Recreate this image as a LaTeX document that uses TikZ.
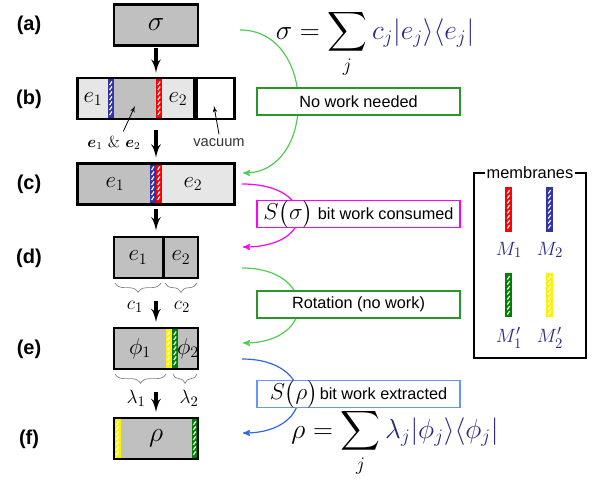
\documentclass[tikz,border=0pt]{standalone}
\usepackage{fontspec}
\usepackage{amsmath,bm}
\newfontfamily\arial{Liberation Sans}
\usetikzlibrary{shapes,arrows,positioning,calc,decorations.pathreplacing}

\definecolor{boxgray}{RGB}{192,192,192}
\definecolor{palegray}{RGB}{230,230,230}
\definecolor{navy}{RGB}{40,40,135}
\definecolor{mblue}{RGB}{50,50,170}
\definecolor{mgreen}{RGB}{0,128,0}
\definecolor{curvegreen}{RGB}{80,205,80}
\definecolor{notegreen}{RGB}{40,150,40}
\definecolor{noteblue}{RGB}{100,150,255}
\definecolor{curveblue}{RGB}{50,100,240}
\definecolor{pink}{RGB}{255,0,255}

\tikzstyle{cell} = [rectangle, fill=boxgray, minimum width=63pt,
    minimum height=30.75pt, inner sep=0pt, outer sep=0pt,
    font=\fontsize{17}{20}\selectfont]
\tikzstyle{wide} = [cell, minimum width=117.75pt]
\tikzstyle{frame} = [draw, line width=2.2pt]
\tikzstyle{sym} = [font=\fontsize{17}{20}\selectfont]
\tikzstyle{coef} = [font=\fontsize{15}{18}\selectfont]
\tikzstyle{tag} = [font=\arial\bfseries\fontsize{15}{18}\selectfont]
\tikzstyle{note} = [rectangle, draw, fill=white, line width=0.8pt,
    minimum width=152.25pt, minimum height=20.25pt, inner sep=0pt,
    font=\arial\fontsize{12.2}{14}\selectfont]
\tikzstyle{formula} = [inner sep=0pt, font=\fontsize{20.5}{24}\selectfont]
\tikzstyle{thickarrow} = [draw, line width=2.4pt, -latex']
\tikzstyle{line} = [draw, line width=0.9pt, -stealth']
\tikzstyle{pointer} = [draw, line width=0.6pt, -latex']
\tikzstyle{brace} = [draw=gray, line width=0.5pt, decorate,
    decoration={brace, amplitude=7pt}]

% hatched membrane strip: x1, x2, ytop, ybottom, colour
\newcommand{\memb}[5]{%
  \fill[#5] (#1,#3) rectangle (#2,#4);
  \pgfmathsetmacro{\mx}{(#1+#2)/2}
  \pgfmathtruncatemacro{\nd}{(#4-#3-7)/5}
  \foreach \k in {0,...,\nd}
    \draw[white, line width=0.9pt] (\mx-1.2,#3+6.5+5*\k) -- (\mx+1.2,#3+3+5*\k);
}
\newcommand{\Sof}[1]{{\fontsize{16}{19}\selectfont$S\bigl(#1\bigr)$}}

\begin{document}
\begin{tikzpicture}[x=0.75pt, y=-0.75pt, node distance=2cm]
\useasboundingbox (0,0) rectangle (601,481);
			% Place boxes
			\node [cell] (a) at (156,25) {\fontsize{22}{26}\selectfont$\sigma$};
			\node [wide] (b) at (156,98.5) {};
			\node [wide] (c) at (156,184) {};
			\node [cell] (d) at (156,257.5) {};
			\node [cell] (e) at (156,348.5) {};
			\node [cell] (f) at (156,438.5) {\fontsize{22}{26}\selectfont$\rho$};
			% Fill sections and membranes
			\fill [palegray] (77.5,78.5) rectangle (108,118.5);
			\memb{108}{113.5}{78.5}{118.5}{mblue}
			\memb{156}{162}{78.5}{118.5}{red}
			\fill [palegray] (162,78.5) rectangle (193,118.5);
			\fill (193,78.5) rectangle (198,118.5);
			\fill [white] (198,78.5) rectangle (234.5,118.5);
			\memb{150}{155.5}{163.5}{204.5}{mblue}
			\memb{155.5}{162}{163.5}{204.5}{red}
			\fill [palegray] (162,163.5) rectangle (234.5,204.5);
			\draw [line width=2.2pt] (163.5,237.5) -- (163.5,277.5);
			\memb{166}{171.5}{328.5}{368.5}{yellow}
			\memb{172}{178}{328.5}{368.5}{mgreen}
			\memb{114.5}{120.5}{418.5}{458.5}{yellow}
			\memb{191.5}{197.5}{418.5}{458.5}{mgreen}
			\foreach \n in {a,b,c,d,e,f}
				\draw [frame] (\n.south west) rectangle (\n.north east);
			% Labels in and under the boxes
			\node [sym] (b1) at (93,99) {$e_1$};
			\node [sym] (b2) at (178,99) {$e_2$};
			\node [sym] (c1) at (115,184) {$e_1$};
			\node [sym] (c2) at (193,184) {$e_2$};
			\node [sym] (d1) at (138,257.5) {$e_1$};
			\node [sym] (d2) at (181,257.5) {$e_2$};
			\node [sym] (e1) at (140,348.5) {$\phi_1$};
			\node [sym] (e2) at (188,348.5) {$\phi_2$};
			\draw [brace] (161,283) -- (115,283);
			\draw [brace] (197,283) -- (165,283);
			\draw [brace] (166,374) -- (115,374);
			\draw [brace] (197,374) -- (173,374);
			\node [coef] (kc1) at (135,307) {$c_1$};
			\node [coef] (kc2) at (182,307) {$c_2$};
			\node [coef] (kl1) at (136,398) {$\lambda_1$};
			\node [coef] (kl2) at (189,398) {$\lambda_2$};
			\node [font=\large] (both) at (114,143) {$\bm{e}_1$ \& $\bm{e}_2$};
			\node [font=\arial\fontsize{11}{13}\selectfont, text=black!80] (vac) at (219,143) {vacuum};
			\coordinate (pb) at (135,106);
			\coordinate (pv) at (214,106);
			% Step tags
			\node [tag] (ta) at (29,25) {(a)};
			\node [tag] (tb) at (29,99) {(b)};
			\node [tag] (tc) at (29,184) {(c)};
			\node [tag] (td) at (29,258) {(d)};
			\node [tag] (te) at (29,349) {(e)};
			\node [tag] (tf) at (29,439) {(f)};
			% Draw edges
			\path [thickarrow, shorten <=2pt, shorten >=4pt] (a) -- (b);
			\path [thickarrow, shorten <=8.5pt, shorten >=4.5pt] (b) -- (c);
			\path [thickarrow, shorten <=3.5pt, shorten >=5pt] (c) -- (d);
			\path [thickarrow, shorten <=17pt, shorten >=4.5pt] (d) -- (e);
			\path [thickarrow, shorten <=17pt, shorten >=4.5pt] (e) -- (f);
			\path [pointer] ([xshift=7pt]both.north) -- (pb);
			\path [pointer] (vac.north) -- (pv);
			% Curved arrows and notes
			\coordinate (g1s) at (240,30);
			\coordinate (g1e) at (243,173);
			\coordinate (m1s) at (242,184);
			\coordinate (m1e) at (243,247);
			\coordinate (g2s) at (242,268);
			\coordinate (g2e) at (243,343);
			\coordinate (b1s) at (242,359);
			\coordinate (b1e) at (243,433);
			\path [line, draw=curvegreen] (g1s) .. controls (317,30) and (317,173) .. (g1e);
			\path [line, draw=pink] (m1s) .. controls (317,184) and (317,247) .. (m1e);
			\path [line, draw=curvegreen] (g2s) .. controls (317,268) and (317,343) .. (g2e);
			\path [line, draw=curveblue] (b1s) .. controls (317,359) and (317,433) .. (b1e);
			\node [note, draw=notegreen] (nw) at (358.5,101.5) {No work needed};
			\node [note, draw=pink] (wc) at (358.5,214) {\Sof{\sigma} bit work consumed};
			\node [note, draw=notegreen] (rot) at (358.5,304.5) {Rotation (no work)};
			\node [note, draw=noteblue] (we) at (358.5,394) {\Sof{\rho}\kern1.5pt bit work extracted};
			% Formulas
			\node [formula] (fs) at (375,44) {$\displaystyle\sigma=\sum_j{\color{navy}c_j|e_j\rangle\langle e_j|}$};
			\node [formula] (fr) at (395,443) {$\displaystyle\rho=\sum_j{\color{navy}\lambda_j|\phi_j\rangle\langle\phi_j|}$};
			% Legend
			\node [draw, line width=0.8pt, minimum width=84pt, minimum height=138.75pt, inner sep=0pt] (leg) at (530,265.5) {};
			\node [fill=white, inner sep=1.5pt, font=\arial\fontsize{12.3}{14}\selectfont] (mt) at (leg.north) {membranes};
			\memb{505}{512}{187}{232}{red}
			\memb{546}{553}{187}{232}{mblue}
			\memb{505}{512}{273}{317}{mgreen}
			\memb{546}{553}{273}{317}{yellow}
			\node [coef, text=navy] (m1) at (509,250) {$M_1$};
			\node [coef, text=navy] (m2) at (550,250) {$M_2$};
			\node [coef, text=navy] (m1p) at (509,338) {$M'_1$};
			\node [coef, text=navy] (m2p) at (550,338) {$M'_2$};
	\end{tikzpicture}
\end{document}
